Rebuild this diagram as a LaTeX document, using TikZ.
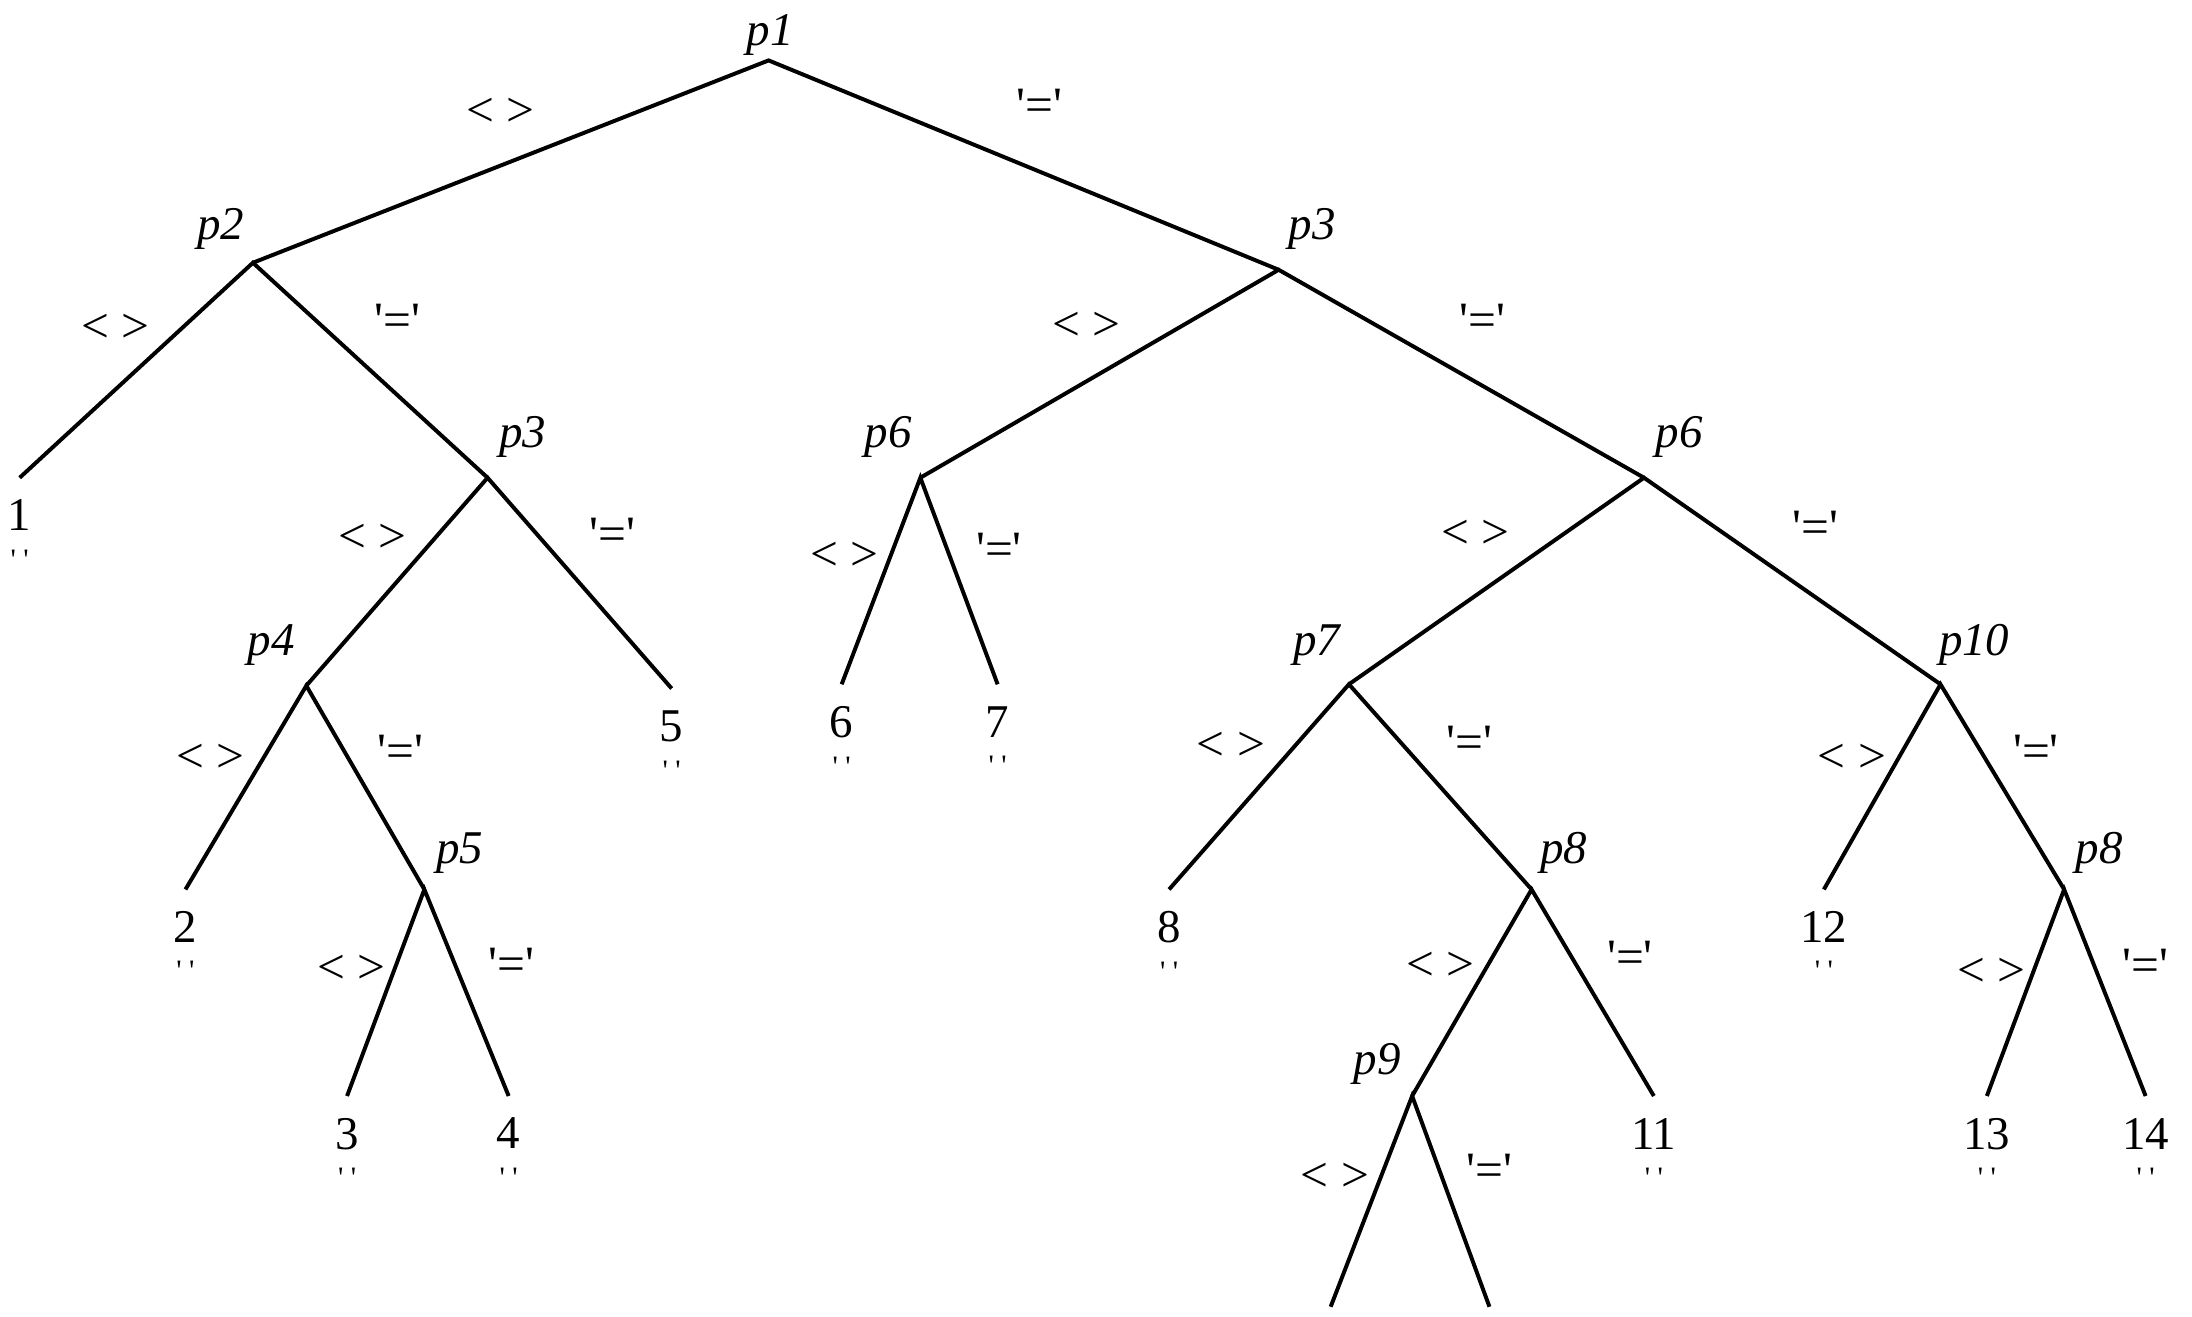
\documentclass[tikz,border=0pt]{standalone}
\usepackage{fontspec}
\setmainfont{Liberation Serif}
\usetikzlibrary{positioning}

\begin{document}
\begin{tikzpicture}[
        x=0.01cm, y=-0.01cm,
        edge/.style={line width=0.8pt, black},
        test/.style={font=\fontsize{9.5}{10}\selectfont\itshape, inner sep=0pt},
        leaf/.style={font=\fontsize{9.5}{10}\selectfont, inner sep=0pt, below=0.15cm of #1},
        blank/.style={font=\fontsize{6}{6}\selectfont, inner sep=0pt, below=0.12cm of #1},
        ne/.style={font=\fontsize{10}{10}\selectfont, inner sep=0pt},
    ]
    \useasboundingbox (0,0) rectangle (1560,937);

    % ── Test points ──
    \coordinate (j1)  at (547,43);
    \coordinate (j2)  at (180,187);
    \coordinate (j3)  at (910,192);
    \coordinate (j3b) at (347,340);
    \coordinate (j6)  at (655,340);
    \coordinate (j6b) at (1170,340);
    \coordinate (j4)  at (218,488);
    \coordinate (j7)  at (960,487);
    \coordinate (j10) at (1381,487);
    \coordinate (j5)  at (302,633);
    \coordinate (j8)  at (1090,633);
    \coordinate (j8b) at (1469,633);
    \coordinate (j9)  at (1005,780);

    \node[test] (t1)  at (548,25)   {p1};
    \node[test] (t2)  at (157,163)  {p2};
    \node[test] (t3)  at (934,163)  {p3};
    \node[test] (t3b) at (372,311)  {p3};
    \node[test] (t6)  at (632,311)  {p6};
    \node[test] (t6b) at (1195,311) {p6};
    \node[test] (t4)  at (193,459)  {p4};
    \node[test] (t7)  at (937,459)  {p7};
    \node[test] (t10) at (1405,459) {p10};
    \node[test] (t5)  at (327,607)  {p5};
    \node[test] (t8)  at (1113,607) {p8};
    \node[test] (t8b) at (1494,607) {p8};
    \node[test] (t9)  at (980,757)  {p9};

    % ── Leaves ──
    \coordinate (e1)  at (14,340);
    \coordinate (e2)  at (132,633);
    \coordinate (e3)  at (247,780);
    \coordinate (e4)  at (362,780);
    \coordinate (e5)  at (478,490);
    \coordinate (e6)  at (599,487);
    \coordinate (e7)  at (710,487);
    \coordinate (e8)  at (832,633);
    \coordinate (e11) at (1177,780);
    \coordinate (e12) at (1298,633);
    \coordinate (e13) at (1414,780);
    \coordinate (e14) at (1527,780);
    \coordinate (e9a) at (947,930);
    \coordinate (e9b) at (1060,930);

    \node[leaf=e1]  (n1)  {1};
    \node[leaf=e2]  (n2)  {2};
    \node[leaf=e3]  (n3)  {3};
    \node[leaf=e4]  (n4)  {4};
    \node[leaf=e5]  (n5)  {5};
    \node[leaf=e6]  (n6)  {6};
    \node[leaf=e7]  (n7)  {7};
    \node[leaf=e8]  (n8)  {8};
    \node[leaf=e11] (n11) {11};
    \node[leaf=e12] (n12) {12};
    \node[leaf=e13] (n13) {13};
    \node[leaf=e14] (n14) {14};

    \node[blank=n1]  (b1)  {\textquotesingle\ \textquotesingle};
    \node[blank=n2]  (b2)  {\textquotesingle\ \textquotesingle};
    \node[blank=n3]  (b3)  {\textquotesingle\ \textquotesingle};
    \node[blank=n4]  (b4)  {\textquotesingle\ \textquotesingle};
    \node[blank=n5]  (b5)  {\textquotesingle\ \textquotesingle};
    \node[blank=n6]  (b6)  {\textquotesingle\ \textquotesingle};
    \node[blank=n7]  (b7)  {\textquotesingle\ \textquotesingle};
    \node[blank=n8]  (b8)  {\textquotesingle\ \textquotesingle};
    \node[blank=n11] (b11) {\textquotesingle\ \textquotesingle};
    \node[blank=n12] (b12) {\textquotesingle\ \textquotesingle};
    \node[blank=n13] (b13) {\textquotesingle\ \textquotesingle};
    \node[blank=n14] (b14) {\textquotesingle\ \textquotesingle};

    % ── Branches ──
    \draw[edge] (j2) -- (j1) -- (j3);
    \draw[edge] (e1) -- (j2) -- (j3b);
    \draw[edge] (j6) -- (j3) -- (j6b);
    \draw[edge] (j4) -- (j3b) -- (e5);
    \draw[edge] (e6) -- (j6) -- (e7);
    \draw[edge] (j7) -- (j6b) -- (j10);
    \draw[edge] (e2) -- (j4) -- (j5);
    \draw[edge] (e3) -- (j5) -- (e4);
    \draw[edge] (e8) -- (j7) -- (j8);
    \draw[edge] (e12) -- (j10) -- (j8b);
    \draw[edge] (j9) -- (j8) -- (e11);
    \draw[edge] (e13) -- (j8b) -- (e14);
    \draw[edge] (e9a) -- (j9) -- (e9b);

    % ── Branch labels ──
    \node[ne] (ne1)  at (356,80)   {< >};
    \node[ne] (eq1)  at (740,75)   {\textquotesingle=\textquotesingle};
    \node[ne] (ne2)  at (82,234)   {< >};
    \node[ne] (eq2)  at (283,228)  {\textquotesingle=\textquotesingle};
    \node[ne] (ne3)  at (773,232)  {< >};
    \node[ne] (eq3)  at (1055,228) {\textquotesingle=\textquotesingle};
    \node[ne] (ne3b) at (265,383)  {< >};
    \node[ne] (eq3b) at (436,380)  {\textquotesingle=\textquotesingle};
    \node[ne] (ne6)  at (601,396)  {< >};
    \node[ne] (eq6)  at (711,391)  {\textquotesingle=\textquotesingle};
    \node[ne] (ne6b) at (1050,380) {< >};
    \node[ne] (eq6b) at (1292,375) {\textquotesingle=\textquotesingle};
    \node[ne] (ne4)  at (150,540)  {< >};
    \node[ne] (eq4)  at (285,535)  {\textquotesingle=\textquotesingle};
    \node[ne] (ne7)  at (876,531)  {< >};
    \node[ne] (eq7)  at (1046,528) {\textquotesingle=\textquotesingle};
    \node[ne] (ne10) at (1318,540) {< >};
    \node[ne] (eq10) at (1449,535) {\textquotesingle=\textquotesingle};
    \node[ne] (ne5)  at (250,690)  {< >};
    \node[ne] (eq5)  at (364,686)  {\textquotesingle=\textquotesingle};
    \node[ne] (ne8)  at (1025,688) {< >};
    \node[ne] (eq8)  at (1160,681) {\textquotesingle=\textquotesingle};
    \node[ne] (ne8b) at (1417,692) {< >};
    \node[ne] (eq8b) at (1527,687) {\textquotesingle=\textquotesingle};
    \node[ne] (ne9)  at (950,838)  {< >};
    \node[ne] (eq9)  at (1060,833) {\textquotesingle=\textquotesingle};

\end{tikzpicture}
\end{document}
